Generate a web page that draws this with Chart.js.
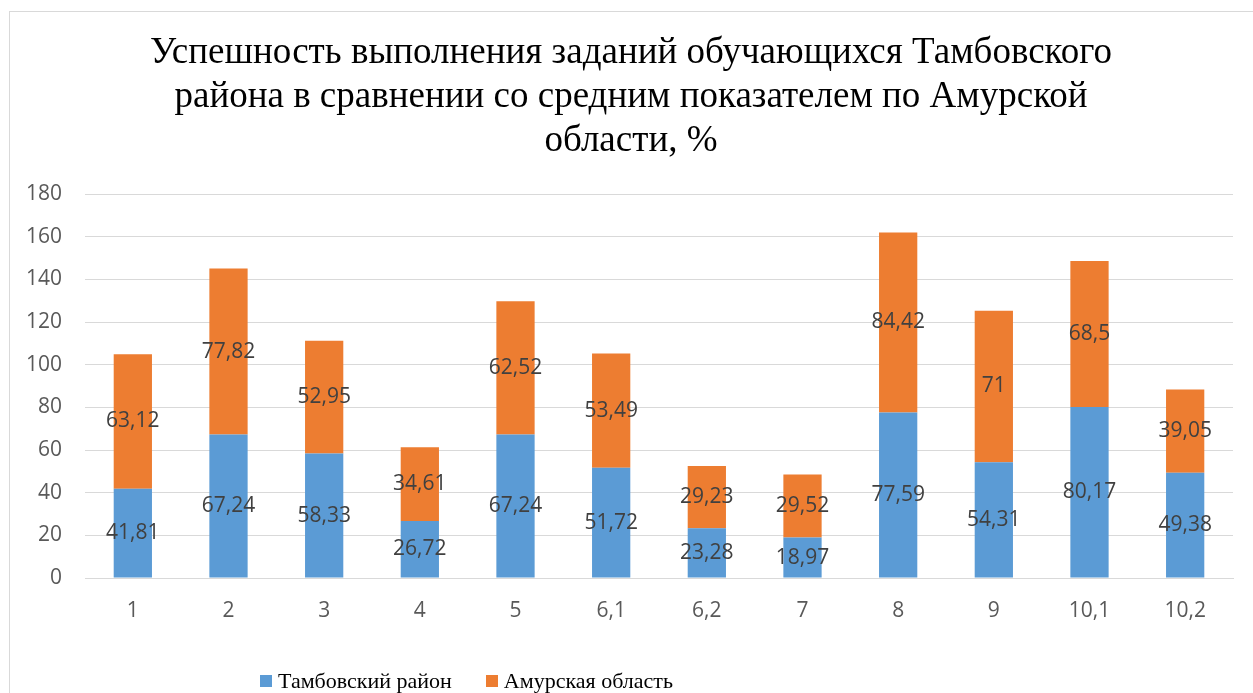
<!DOCTYPE html>
<html lang="ru">
<head>
<meta charset="utf-8">
<script src="https://cdn.jsdelivr.net/npm/chart.js@4/dist/chart.umd.min.js"></script>
<style>
  html, body { margin: 0; padding: 0; background: #fff; overflow: hidden; }
  #wrap { position: relative; width: 1253px; height: 693px; overflow: hidden; }
  #frame { position: absolute; left: 9px; top: 11px; width: 1400px; height: 800px; border: 1px solid #d9d9d9; box-sizing: border-box; }
  #chart { position: absolute; left: 0; top: 0; }
  #legend { position: absolute; top: 667px; left: 260px; font: 22px "Liberation Serif", serif; color: #000; white-space: nowrap; }
  #legend span.item { display: inline-flex; align-items: center; margin-right: 34px; }
  #legend i { display: inline-block; width: 12px; height: 12px; margin-right: 6px; }
</style>
</head>
<body>
<div id="wrap">
  <div id="frame"></div>
  <canvas id="chart" width="1253" height="693"></canvas>
  <div id="legend"></div>
</div>
<script>
// Номера заданий
const zadaniya = ['1', '2', '3', '4', '5', '6,1', '6,2', '7', '8', '9', '10,1', '10,2'];
// Тамбовский район, %
const tambovskiy = [41.81, 67.24, 58.33, 26.72, 67.24, 51.72, 23.28, 18.97, 77.59, 54.31, 80.17, 49.38];
// Амурская область, %
const amurskaya = [63.12, 77.82, 52.95, 34.61, 62.52, 53.49, 29.23, 29.52, 84.42, 71, 68.5, 39.05];
const seriesNames = ['Тамбовский район', 'Амурская область'];
const titleLines = [
    'Успешность выполнения заданий обучающихся Тамбовского',
    'района в сравнении со средним показателем по Амурской',
    'области, %'
];

const colors = ['#5b9bd5', '#ed7d31'];

// подписи значений в центре каждого сегмента
const segmentLabels = {
    id: 'segmentLabels',
    afterDatasetsDraw(chart) {
        const ctx = chart.ctx;
        ctx.save();
        ctx.font = '21px "Open Sans", sans-serif';
        ctx.fillStyle = '#404040';
        ctx.textAlign = 'center';
        ctx.textBaseline = 'middle';
        chart.data.datasets.forEach((ds, i) => {
            const meta = chart.getDatasetMeta(i);
            meta.data.forEach((bar, j) => {
                const txt = String(ds.data[j]).replace('.', ',');
                ctx.fillText(txt, bar.x, (bar.y + bar.base) / 2);
            });
        });
        ctx.restore();
    }
};

const ctx = document.getElementById('chart').getContext('2d');
new Chart(ctx, {
    type: 'bar',
    data: {
        labels: zadaniya,
        datasets: [
            { label: seriesNames[0], data: tambovskiy, backgroundColor: colors[0] },
            { label: seriesNames[1], data: amurskaya, backgroundColor: colors[1] }
        ]
    },
    options: {
        responsive: false,
        animation: false,
        devicePixelRatio: 1,
        layout: { padding: { left: 9, right: 0, top: 0, bottom: 0 } },
        datasets: { bar: { barPercentage: 0.4, categoryPercentage: 1 } },
        plugins: {
            legend: { display: false },
            tooltip: { enabled: false },
            title: {
                display: true,
                text: titleLines,
                color: '#000',
                font: { family: '"Liberation Serif", serif', size: 37, weight: 'normal', lineHeight: 1.19 },
                padding: { top: 31, bottom: 31 }
            }
        },
        scales: {
            x: {
                stacked: true,
                grid: { display: false, drawTicks: false },
                border: { color: '#d9d9d9', width: 1 },
                ticks: { color: '#595959', font: { family: '"Open Sans", sans-serif', size: 21 }, padding: 20 },
                afterFit(scale) { scale.height = 115; }
            },
            y: {
                stacked: true,
                min: 0,
                max: 180,
                ticks: { stepSize: 20, color: '#595959', font: { family: '"Open Sans", sans-serif', size: 21 }, padding: 23 },
                grid: { color: '#d9d9d9', drawTicks: false },
                border: { display: false },
                afterFit(scale) { scale.width = 76; }
            },
            yRight: {
                position: 'right',
                display: true,
                grid: { display: false, drawTicks: false },
                border: { display: false },
                ticks: { display: false },
                afterFit(scale) { scale.width = 20; }
            }
        }
    },
    plugins: [segmentLabels]
});

// легенда
const legend = document.getElementById('legend');
seriesNames.forEach((name, i) => {
    const item = document.createElement('span');
    item.className = 'item';
    const box = document.createElement('i');
    box.style.background = colors[i];
    item.appendChild(box);
    item.appendChild(document.createTextNode(name));
    legend.appendChild(item);
});
</script>
</body>
</html>
